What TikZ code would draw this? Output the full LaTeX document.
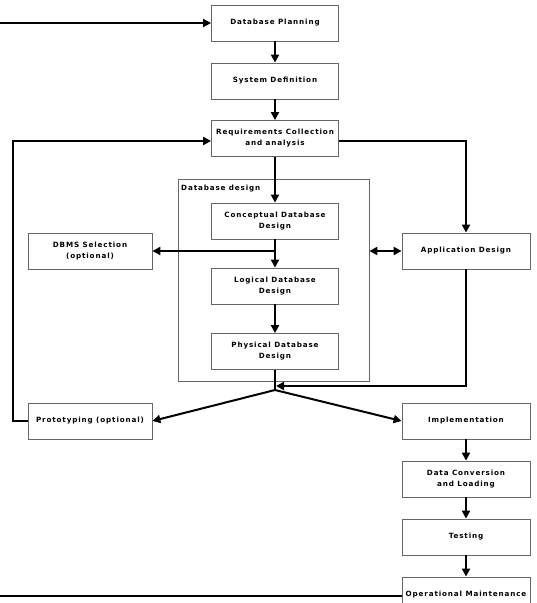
\documentclass[tikz,border=0pt]{standalone}
\usepackage{fontspec}
\newfontfamily\diagfont{DejaVu Sans}[LetterSpace=12]
\usetikzlibrary{arrows.meta}
\tikzset{
  box/.style={draw=black!60, line width=0.8pt, minimum width=127pt, minimum height=36pt,
    align=center, inner sep=0pt, font=\diagfont\fontsize{7.2}{11}\selectfont\bfseries},
  conn/.style={line width=2pt, black},
  arr/.style={conn, -{Triangle[length=8pt,width=8pt]}},
  darr/.style={conn, {Triangle[length=8pt,width=8pt]}-{Triangle[length=8pt,width=8pt]}}
}
\begin{document}
\begin{tikzpicture}[x=1pt,y=-1pt]
\useasboundingbox (0,0) rectangle (537,603);
\clip (0,0) rectangle (537,603);
% container
\node[draw=black!60, line width=0.8pt, minimum width=191pt, minimum height=202pt, inner sep=0pt] (cont) at (273.5,280) {};
\node[anchor=north west, inner sep=0pt, font=\diagfont\fontsize{7.2}{11}\selectfont\bfseries] (contlabel) at (181,185) {Database design};
% boxes
\node[box] (plan) at (275,23) {Database Planning};
\node[box] (sys) at (275,81) {System Definition};
\node[box] (req) at (275,138.5) {Requirements Collection\\and analysis};
\node[box] (conc) at (275,221) {Conceptual Database\\Design};
\node[box] (log) at (275,286) {Logical Database\\Design};
\node[box] (phys) at (275,351.5) {Physical Database\\Design};
\node[box, minimum width=124pt] (dbms) at (90,251) {DBMS Selection\\(optional)};
\node[box, minimum width=128pt] (app) at (466,251) {Application Design};
\node[box, minimum width=124pt] (proto) at (90,421) {Prototyping (optional)};
\node[box, minimum width=128pt] (impl) at (466,421) {Implementation};
\node[box, minimum width=128pt] (conv) at (466,479) {Data Conversion\\and Loading};
\node[box, minimum width=128pt] (test) at (466,537) {Testing};
\node[box, minimum width=128pt] (oper) at (466,595) {Operational Maintenance};
% coordinates
\coordinate (inTop) at (0,23);
\coordinate (outBot) at (0,596);
\coordinate (fbL) at (13,421);
\coordinate (fbT) at (13,141);
\coordinate (junc) at (275,390);
\coordinate (mid) at (275,251);
\coordinate (appRet) at (466,386);
\coordinate (appTip) at (276,386);
\coordinate (reqR) at (466,141);
% connectors
\draw[arr] (inTop) -- (plan.west);
\draw[arr] (plan) -- (sys);
\draw[arr] (sys) -- (req);
\draw[arr] (req) -- (conc);
\draw[arr] (conc) -- (log);
\draw[arr] (mid) -- (dbms.east);
\draw[arr] (log) -- (phys);
\draw[conn] (phys.south) -- (junc);
\draw[arr] (junc) -- (proto.east);
\draw[arr] (junc) -- (impl.west);
\draw[arr] (req.east |- reqR) -- (reqR) -- (app.north);
\draw[arr] (app.south) -- (appRet) -- (appTip);
\draw[darr] (cont.east |- app.west) -- (app.west);
\draw[arr] (proto.west) -- (fbL) -- (fbT) -- (req.west |- fbT);
\draw[arr] (impl) -- (conv);
\draw[arr] (conv) -- (test);
\draw[arr] (test) -- (oper);
\draw[conn] (oper.west |- outBot) -- (outBot);
\end{tikzpicture}
\end{document}
